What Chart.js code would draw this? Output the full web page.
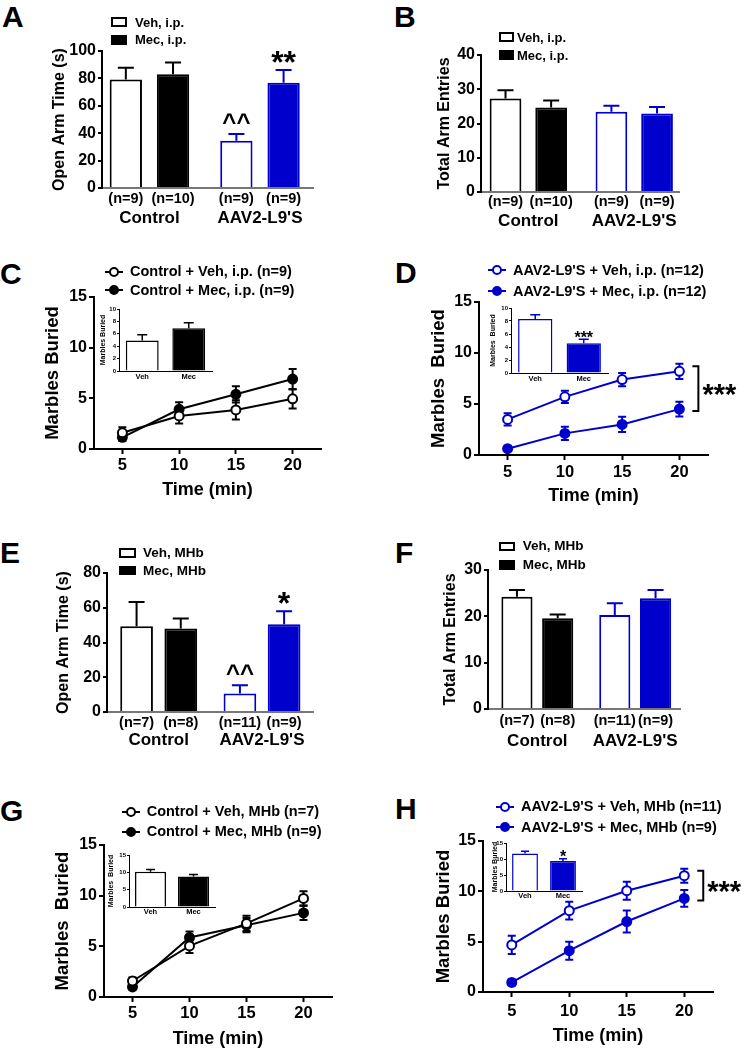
<!DOCTYPE html>
<html><head><meta charset="utf-8">
<script src="https://cdn.jsdelivr.net/npm/chart.js@4.4.0/dist/chart.umd.min.js"></script>
<style>
html,body{margin:0;padding:0;background:#fff;}
#fig{position:relative;width:742px;height:1050px;overflow:hidden;font-family:"Liberation Sans",Arial,sans-serif;font-weight:bold;color:#000;background:#fff;}
.t{position:absolute;white-space:nowrap;line-height:1;}
canvas{position:absolute;}
</style></head><body><div id="fig"></div>
<script>
// ---------------- DATA ----------------
const groups = ["Control", "AAV2-L9'S"];
const times = [5, 10, 15, 20];
const timeTicks = [5, 10, 15, 20];
const insetCats = ["Veh", "Mec"];

// Panel A: Open arm time, i.p.
const aTicks = [0, 20, 40, 60, 80, 100];
const aVeh = [79.2, 34.4], aVehErr = [8.6, 5.1];
const aMec = [83.0, 76.8], aMecErr = [8.6, 9.4];
const aVehN = ["(n=9)", "(n=9)"], aMecN = ["(n=10)", "(n=9)"];
const aVehSig = ["", "^^"], aMecSig = ["", "**"];

// Panel B: Total arm entries, i.p.
const bTicks = [0, 10, 20, 30, 40];
const bVeh = [27.3, 23.4], bVehErr = [2.4, 1.8];
const bMec = [24.7, 22.9], bMecErr = [2.0, 1.9];
const bVehN = ["(n=9)", "(n=9)"], bMecN = ["(n=10)", "(n=9)"];

// Panel C: Control marbles, i.p.
const cTicks = [0, 5, 10, 15];
const cVeh = [1.6, 3.26, 3.86, 4.95], cVehErr = [0.55, 0.75, 0.95, 0.95];
const cMec = [1.15, 3.92, 5.4, 6.9], cMecErr = [0.35, 0.7, 0.8, 1.0];
const cInsetTicks = [0, 2, 4, 6, 8, 10];
const cInset = [4.9, 6.9], cInsetErr = [0.95, 0.9];

// Panel D: AAV2-L9'S marbles, i.p.
const dTicks = [0, 5, 10, 15];
const dVeh = [3.49, 5.7, 7.4, 8.2], dVehErr = [0.6, 0.6, 0.65, 0.75];
const dMec = [0.62, 2.12, 3.0, 4.5], dMecErr = [0.15, 0.65, 0.75, 0.72];
const dInsetTicks = [0, 2, 4, 6, 8, 10];
const dInset = [8.3, 4.56], dInsetErr = [0.65, 0.65];
const dInsetSig = ["", "***"];

// Panel E: Open arm time, MHb
const eTicks = [0, 20, 40, 60, 80];
const eVeh = [49.3, 10.6], eVehErr = [14.0, 4.8];
const eMec = [48.0, 50.5], eMecErr = [5.8, 7.5];
const eVehN = ["(n=7)", "(n=11)"], eMecN = ["(n=8)", "(n=9)"];
const eVehSig = ["", "^^"], eMecSig = ["", "*"];

// Panel F: Total arm entries, MHb
const fTicks = [0, 10, 20, 30];
const fVeh = [24.2, 20.3], fVehErr = [1.5, 2.5];
const fMec = [19.6, 23.9], fMecErr = [0.8, 1.8];
const fVehN = ["(n=7)", "(n=11)"], fMecN = ["(n=8)", "(n=9)"];

// Panel G: Control marbles, MHb
const gTicks = [0, 5, 10, 15];
const gVeh = [1.58, 5.04, 7.26, 9.73], gVehErr = [0.35, 0.7, 0.75, 0.7];
const gMec = [0.99, 5.87, 7.09, 8.3], gMecErr = [0.25, 0.6, 0.7, 0.7];
const gInsetTicks = [0, 5, 10, 15];
const gInset = [10.2, 8.8], gInsetErr = [0.6, 0.55];

// Panel H: AAV2-L9'S marbles, MHb
const hTicks = [0, 5, 10, 15];
const hVeh = [4.68, 8.08, 10.06, 11.55], hVehErr = [0.9, 0.88, 0.9, 0.7];
const hMec = [0.95, 4.1, 7.0, 9.3], hMecErr = [0.3, 0.9, 1.1, 0.83];
const hInsetTicks = [0, 5, 10, 15];
const hInset = [11.7, 9.35], hInsetErr = [0.7, 0.75];
const hInsetSig = ["", "*"];

// ---------------- RENDERING ----------------
const BLUE = '#0000cc';
const FONT = '"Liberation Sans", Arial, sans-serif';
Chart.defaults.font.family = FONT;
const fig = document.getElementById('fig');

function addText(txt, x, yc, size, align) {
  const d = document.createElement('div');
  d.className = 't';
  d.textContent = txt;
  d.style.fontSize = size + 'px';
  d.style.top = (yc - size / 2) + 'px';
  d.style.left = x + 'px';
  if (align === 'center') d.style.transform = 'translateX(-50%)';
  fig.appendChild(d);
}
function legendBox(x, y, w, h, fill) {
  const d = document.createElement('div');
  d.style.cssText = `position:absolute;left:${x}px;top:${y}px;width:${w}px;height:${h}px;box-sizing:border-box;border:2px solid #000;background:${fill}`;
  fig.appendChild(d);
}
function lineMarker(cx, cy, color, filled) {
  const ns = 'http://www.w3.org/2000/svg';
  const s = document.createElementNS(ns, 'svg');
  s.setAttribute('width', 22); s.setAttribute('height', 14);
  s.style.cssText = `position:absolute;left:${cx - 11}px;top:${cy - 7}px;overflow:visible`;
  const l = document.createElementNS(ns, 'line');
  l.setAttribute('x1', 2); l.setAttribute('x2', 20); l.setAttribute('y1', 7); l.setAttribute('y2', 7);
  l.setAttribute('stroke', color); l.setAttribute('stroke-width', 2);
  const c = document.createElementNS(ns, 'circle');
  c.setAttribute('cx', 11); c.setAttribute('cy', 7); c.setAttribute('r', 4);
  c.setAttribute('fill', filled ? color : '#fff'); c.setAttribute('stroke', color); c.setAttribute('stroke-width', 2);
  s.appendChild(l); s.appendChild(c);
  fig.appendChild(s);
}

function makeCanvas(area, m) {
  const c = document.createElement('canvas');
  const w = area.r - area.l + m.l + m.r, h = area.b - area.t + m.t + m.b;
  c.width = w; c.height = h;
  c.style.width = w + 'px'; c.style.height = h + 'px';
  c.style.left = (area.l - m.l) + 'px';
  c.style.top = (area.t - m.t) + 'px';
  fig.appendChild(c);
  return c;
}
function frame(area, titleCx, titleFs, mt, mr, mb) {
  const left = Math.floor(titleCx - 0.6 * titleFs - 1);
  return { m: { l: area.l - left, t: mt, r: mr, b: mb }, tpad: titleCx - left - 0.6 * titleFs };
}
function yVal(d) { return (d && typeof d === 'object') ? d.y : d; }

function drawErr(chart, o) {
  const ctx = chart.ctx, ys = chart.scales.y;
  chart.data.datasets.forEach((ds, di) => {
    if (!ds.errors) return;
    const meta = chart.getDatasetMeta(di);
    meta.data.forEach((el, i) => {
      const v = yVal(ds.data[i]), e = ds.errors[i];
      const x = el.x;
      const yT = ys.getPixelForValue(v + e);
      const yB = o.errMode === 'both' ? ys.getPixelForValue(v - e) : ys.getPixelForValue(v);
      const col = Array.isArray(ds.errColor) ? ds.errColor[i] : ds.errColor;
      ctx.save();
      ctx.strokeStyle = col; ctx.lineWidth = o.errLw; ctx.lineCap = 'butt';
      ctx.beginPath();
      ctx.moveTo(x, yB); ctx.lineTo(x, yT);
      ctx.moveTo(x - o.cap / 2, yT); ctx.lineTo(x + o.cap / 2, yT);
      if (o.errMode === 'both') { ctx.moveTo(x - o.cap / 2, yB); ctx.lineTo(x + o.cap / 2, yB); }
      ctx.stroke();
      ctx.restore();
    });
  });
}
const deco = {
  id: 'deco',
  beforeDatasetsDraw(chart, args, o) { if (o.errMode === 'both') drawErr(chart, o); },
  afterDatasetsDraw(chart, args, o) {
    if (o.errMode === 'up') drawErr(chart, o);
    const ctx = chart.ctx, ys = chart.scales.y, ca = chart.chartArea;
    chart.data.datasets.forEach((ds, di) => {
      const meta = chart.getDatasetMeta(di);
      meta.data.forEach((el, i) => {
        const v = yVal(ds.data[i]);
        const e = ds.errors ? ds.errors[i] : 0;
        if (ds.nLabels) {
          ctx.save();
          ctx.font = `bold ${o.nFs}px ${FONT}`; ctx.fillStyle = '#000';
          ctx.textAlign = 'center'; ctx.textBaseline = 'middle';
          ctx.fillText(ds.nLabels[i], el.x, ca.bottom + o.nOff);
          ctx.restore();
        }
        if (ds.sig && ds.sig[i]) {
          const s = ds.sig[i];
          const top = ys.getPixelForValue(v + e);
          const star = s.indexOf('*') >= 0;
          const fs = star ? o.starFs : o.caretFs;
          ctx.save();
          ctx.font = `bold ${fs}px ${FONT}`; ctx.fillStyle = '#000';
          ctx.textAlign = 'center'; ctx.textBaseline = 'alphabetic';
          ctx.fillText(s, el.x, star ? top + o.starShift * fs : top - o.caretGap);
          ctx.restore();
        }
      });
    });
    if (o.bracket) {
      const m0 = chart.getDatasetMeta(0), m1 = chart.getDatasetMeta(1);
      const last = m0.data.length - 1;
      const x = m0.data[last].x, yT = m0.data[last].y - 5, yB = m1.data[last].y + 2;
      ctx.save();
      ctx.strokeStyle = '#000'; ctx.lineWidth = 2;
      ctx.beginPath();
      ctx.moveTo(x + 13, yT); ctx.lineTo(x + 19, yT); ctx.lineTo(x + 19, yB); ctx.lineTo(x + 13, yB);
      ctx.stroke();
      ctx.font = `bold ${o.bracketFs}px ${FONT}`; ctx.fillStyle = '#000';
      ctx.textAlign = 'left'; ctx.textBaseline = 'alphabetic';
      ctx.fillText('***', x + 23, (yT + yB) / 2 + 0.53 * o.bracketFs);
      ctx.restore();
    }
  }
};

function yScale(ticksArr, o) {
  return {
    type: 'linear', position: 'left', min: ticksArr[0], max: ticksArr[ticksArr.length - 1],
    afterBuildTicks: s => { s.ticks = ticksArr.map(v => ({ value: v })); },
    afterFit: s => { s.width = o.width; },
    border: { display: true, color: '#000', width: o.lw },
    grid: { display: true, drawOnChartArea: false, drawTicks: true, tickLength: o.tickLen, tickColor: '#000', tickWidth: o.lw, color: '#000', lineWidth: o.lw },
    ticks: { font: { family: FONT, size: o.fs, weight: 'bold' }, color: '#000', padding: o.pad, autoSkip: false },
    title: { display: true, text: o.title, font: { family: FONT, size: o.tfs, weight: 'bold' }, color: '#000', padding: { top: o.tpad, bottom: 0 } }
  };
}

function barPanel(p) {
  const f = frame(p.area, p.titleCx, 16, 12, 10, 45);
  const canvas = makeCanvas(p.area, f.m);
  const mk = (vals, errs, nl, sig, bg, bc) => ({
    data: vals.map((v, i) => ({ x: i, y: v })), errors: errs, nLabels: nl, sig: sig,
    backgroundColor: bg, borderColor: bc, errColor: bc, borderWidth: 2,
    categoryPercentage: p.cp, barPercentage: p.bp
  });
  new Chart(canvas, {
    type: 'bar',
    data: { datasets: [
      mk(p.veh, p.vehErr, p.vehN, p.vehSig, ['#fff', '#fff'], ['#000', BLUE]),
      mk(p.mec, p.mecErr, p.mecN, p.mecSig, ['#000', BLUE], ['#000', BLUE])
    ] },
    options: {
      responsive: false, animation: false, events: [],
      layout: { padding: { left: 0, top: f.m.t, right: f.m.r, bottom: 0 } },
      scales: {
        x: {
          type: 'linear', position: 'bottom', min: p.xmin, max: p.xmax, offset: false,
          afterBuildTicks: s => { s.ticks = groups.map((g, i) => ({ value: i })); },
          afterFit: s => { s.height = f.m.b; },
          border: { display: true, color: '#777', width: 2 },
          grid: { display: false, drawTicks: false, offset: false },
          ticks: { callback: v => groups[v], font: { family: FONT, size: 17, weight: 'bold' }, color: '#000', padding: p.groupPad, maxRotation: 0, autoSkip: false }
        },
        y: yScale(p.ticks, { width: f.m.l, lw: 2, tickLen: 4, fs: 16, pad: 2, title: p.title, tfs: 16, tpad: f.tpad })
      },
      plugins: { legend: { display: false }, tooltip: { enabled: false },
        deco: { errMode: 'up', cap: 16, errLw: 2, nFs: 14.5, nOff: p.nOff, starFs: 32, starShift: 0.1, caretFs: 24, caretGap: 4 } }
    },
    plugins: [deco]
  });
  const L = p.legend;
  legendBox(L.x, L.y1, L.w, L.h, '#fff');
  legendBox(L.x, L.y2, L.w, L.h, '#000');
  addText(L.labels[0], L.tx, L.ty1, L.fs);
  addText(L.labels[1], L.tx, L.ty2, L.fs);
}

function linePanel(p) {
  const f = frame(p.area, p.titleCx, 18.5, 12, p.mr, p.mb);
  const canvas = makeCanvas(p.area, f.m);
  const mk = (vals, errs, filled) => ({
    data: vals.map((v, i) => ({ x: times[i], y: v })), errors: errs, errColor: p.color,
    borderColor: p.color, borderWidth: 2, pointRadius: 4.5, pointBorderWidth: 2, pointBorderColor: p.color,
    pointBackgroundColor: filled ? p.color : '#fff', fill: false, tension: 0, clip: false
  });
  new Chart(canvas, {
    type: 'line',
    data: { datasets: [mk(p.veh, p.vehErr, false), mk(p.mec, p.mecErr, true)] },
    options: {
      responsive: false, animation: false, events: [],
      layout: { padding: { left: 0, top: f.m.t, right: f.m.r, bottom: 0 } },
      scales: {
        x: {
          type: 'linear', position: 'bottom', min: 2.5, max: 22.5,
          afterBuildTicks: s => { s.ticks = timeTicks.map(v => ({ value: v })); },
          afterFit: s => { s.height = f.m.b; },
          border: { display: true, color: '#000', width: 2 },
          grid: { display: true, drawOnChartArea: false, drawTicks: true, tickLength: 5, tickColor: '#000', tickWidth: 2 },
          ticks: { font: { family: FONT, size: 16.5, weight: 'bold' }, color: '#000', padding: p.tickPad, maxRotation: 0, autoSkip: false },
          title: { display: true, text: 'Time (min)', font: { family: FONT, size: 18, weight: 'bold' }, color: '#000', padding: { top: 0, bottom: 0 } }
        },
        y: yScale(p.ticks, { width: f.m.l, lw: 2, tickLen: 5, fs: 16, pad: 2, title: p.title, tfs: 18.5, tpad: f.tpad })
      },
      plugins: { legend: { display: false }, tooltip: { enabled: false },
        deco: { errMode: 'both', cap: 8, errLw: 2, bracket: !!p.bracket, bracketFs: 29 } }
    },
    plugins: [deco]
  });
  const L = p.legend;
  lineMarker(L.cx, L.y1, p.color, false);
  lineMarker(L.cx, L.y2, p.color, true);
  addText(L.labels[0], L.tx, L.y1, 14.5);
  addText(L.labels[1], L.tx, L.y2, 14.5);
}

function insetPanel(p) {
  const f = frame(p.area, p.titleCx, 7, 5, 3, 13);
  const canvas = makeCanvas(p.area, f.m);
  new Chart(canvas, {
    type: 'bar',
    data: { labels: insetCats, datasets: [{
      data: p.vals, errors: p.errs, sig: p.sig,
      backgroundColor: ['#fff', p.color], borderColor: [p.color, p.color], errColor: p.color,
      borderWidth: 1.5, categoryPercentage: 1, barPercentage: p.bp
    }] },
    options: {
      responsive: false, animation: false, events: [],
      layout: { padding: { left: 0, top: f.m.t, right: f.m.r, bottom: 0 } },
      scales: {
        x: {
          type: 'category', position: 'bottom',
          afterFit: s => { s.height = f.m.b; },
          border: { display: true, color: '#000', width: 1 },
          grid: { display: false, drawTicks: false },
          ticks: { font: { family: FONT, size: 7.5, weight: 'bold' }, color: '#000', padding: p.labPad, maxRotation: 0, autoSkip: false }
        },
        y: yScale(p.ticks, { width: f.m.l, lw: 1, tickLen: 2, fs: 6, pad: 1, title: p.title, tfs: 7, tpad: f.tpad })
      },
      plugins: { legend: { display: false }, tooltip: { enabled: false },
        deco: { errMode: 'up', cap: p.cap, errLw: 1.5, starFs: 16, starShift: 0.22, caretFs: 12, caretGap: 2 } }
    },
    plugins: [deco]
  });
}

// Panel letters
addText('A', 2, 16.7, 30); addText('B', 394, 16.7, 30);
addText('C', 0, 273.7, 30); addText('D', 395, 273.2, 30);
addText('E', 0, 552.5, 30); addText('F', 395, 552.5, 30);
addText('G', 0, 811, 30); addText('H', 395, 809, 30);

// Bar panels
barPanel({ area: { l: 102, t: 51, r: 315, b: 188 }, ticks: aTicks, title: 'Open Arm Time (s)', titleCx: 60,
  xmin: -0.429, xmax: 1.485, cp: 0.854, bp: 0.684, nOff: 11, groupPad: 20,
  veh: aVeh, vehErr: aVehErr, mec: aMec, mecErr: aMecErr, vehN: aVehN, mecN: aMecN, vehSig: aVehSig, mecSig: aMecSig,
  legend: { x: 111, y1: 17.3, y2: 35, w: 15.5, h: 9.5, tx: 135, ty1: 22, ty2: 39.7, fs: 13, labels: ['Veh, i.p.', 'Mec, i.p.'] } });
barPanel({ area: { l: 481, t: 55, r: 688, b: 192 }, ticks: bTicks, title: 'Total Arm Entries', titleCx: 445,
  xmin: -0.447, xmax: 1.431, cp: 0.862, bp: 0.695, nOff: 10, groupPad: 19,
  veh: bVeh, vehErr: bVehErr, mec: bMec, mecErr: bMecErr, vehN: bVehN, mecN: bMecN, vehSig: null, mecSig: null,
  legend: { x: 498.7, y1: 31.7, y2: 50, w: 15, h: 10, tx: 517, ty1: 37, ty2: 55.5, fs: 13, labels: ['Veh, i.p.', 'Mec, i.p.'] } });
barPanel({ area: { l: 107, t: 573, r: 315, b: 712 }, ticks: eTicks, title: 'Open Arm Time (s)', titleCx: 64,
  xmin: -0.5, xmax: 1.503, cp: 0.855, bp: 0.74, nOff: 11, groupPad: 18,
  veh: eVeh, vehErr: eVehErr, mec: eMec, mecErr: eMecErr, vehN: eVehN, mecN: eMecN, vehSig: eVehSig, mecSig: eMecSig,
  legend: { x: 119, y1: 548.3, y2: 565.7, w: 17, h: 9.5, tx: 143, ty1: 553, ty2: 570.7, fs: 13.5, labels: ['Veh, MHb', 'Mec, MHb'] } });
barPanel({ area: { l: 488, t: 570, r: 692, b: 709 }, ticks: fTicks, title: 'Total Arm Entries', titleCx: 451,
  xmin: -0.504, xmax: 1.46, cp: 0.833, bp: 0.764, nOff: 12, groupPad: 22,
  veh: fVeh, vehErr: fVehErr, mec: fMec, mecErr: fMecErr, vehN: fVehN, mecN: fMecN, vehSig: null, mecSig: null,
  legend: { x: 499.3, y1: 541.7, y2: 560, w: 15.7, h: 9.5, tx: 522.7, ty1: 546.2, ty2: 564.8, fs: 13.5, labels: ['Veh, MHb', 'Mec, MHb'] } });

// Line panels
linePanel({ area: { l: 94, t: 297, r: 321, b: 449 }, ticks: cTicks, title: 'Marbles Buried', titleCx: 52.5, color: '#000',
  tickPad: 1.4, mb: 52, mr: 12, veh: cVeh, vehErr: cVehErr, mec: cMec, mecErr: cMecErr,
  legend: { cx: 114, y1: 271.7, y2: 290, tx: 130, labels: ['Control + Veh, i.p. (n=9)', 'Control + Mec, i.p. (n=9)'] } });
linePanel({ area: { l: 479, t: 302, r: 708, b: 455 }, ticks: dTicks, title: 'Marbles  Buried', titleCx: 438.5, color: BLUE,
  tickPad: 2.1, mb: 52, mr: 34, bracket: true, veh: dVeh, vehErr: dVehErr, mec: dMec, mecErr: dMecErr,
  legend: { cx: 497, y1: 270, y2: 291, tx: 513, labels: ["AAV2-L9'S + Veh, i.p. (n=12)", "AAV2-L9'S + Mec, i.p. (n=12)"] } });
linePanel({ area: { l: 104, t: 845, r: 332, b: 997 }, ticks: gTicks, title: 'Marbles  Buried', titleCx: 62.5, color: '#000',
  tickPad: 1.7, mb: 53, mr: 12, veh: gVeh, vehErr: gVehErr, mec: gMec, mecErr: gMecErr,
  legend: { cx: 131, y1: 811.7, y2: 831.7, tx: 146.7, labels: ['Control + Veh, MHb (n=7)', 'Control + Mec, MHb (n=9)'] } });
linePanel({ area: { l: 483, t: 841, r: 713, b: 992 }, ticks: hTicks, title: 'Marbles Buried', titleCx: 444.3, color: BLUE,
  tickPad: 4.2, mb: 55, mr: 29, bracket: true, veh: hVeh, vehErr: hVehErr, mec: hMec, mecErr: hMecErr,
  legend: { cx: 505, y1: 806.7, y2: 827.3, tx: 521, labels: ["AAV2-L9'S + Veh, MHb (n=11)", "AAV2-L9'S + Mec, MHb (n=9)"] } });

// Insets
insetPanel({ area: { l: 119, t: 309, r: 212, b: 371 }, ticks: cInsetTicks, title: 'Marbles Buried', titleCx: 103.3, color: '#000',
  vals: cInset, errs: cInsetErr, sig: null, bp: 0.706, cap: 10, labPad: 1 });
insetPanel({ area: { l: 511, t: 308, r: 608, b: 373 }, ticks: dInsetTicks, title: 'Marbles  Buried', titleCx: 492.7, color: BLUE,
  vals: dInset, errs: dInsetErr, sig: dInsetSig, bp: 0.707, cap: 10, labPad: 1.2 });
insetPanel({ area: { l: 129, t: 855, r: 215, b: 907 }, ticks: gInsetTicks, title: 'Marbles  Buried', titleCx: 111, color: '#000',
  vals: gInset, errs: gInsetErr, sig: null, bp: 0.72, cap: 9, labPad: 0.5 });
insetPanel({ area: { l: 506, t: 843, r: 582, b: 891 }, ticks: hInsetTicks, title: 'Marbles Buried', titleCx: 495, color: BLUE,
  vals: hInset, errs: hInsetErr, sig: hInsetSig, bp: 0.68, cap: 8, labPad: 0 });
</script></body></html>
